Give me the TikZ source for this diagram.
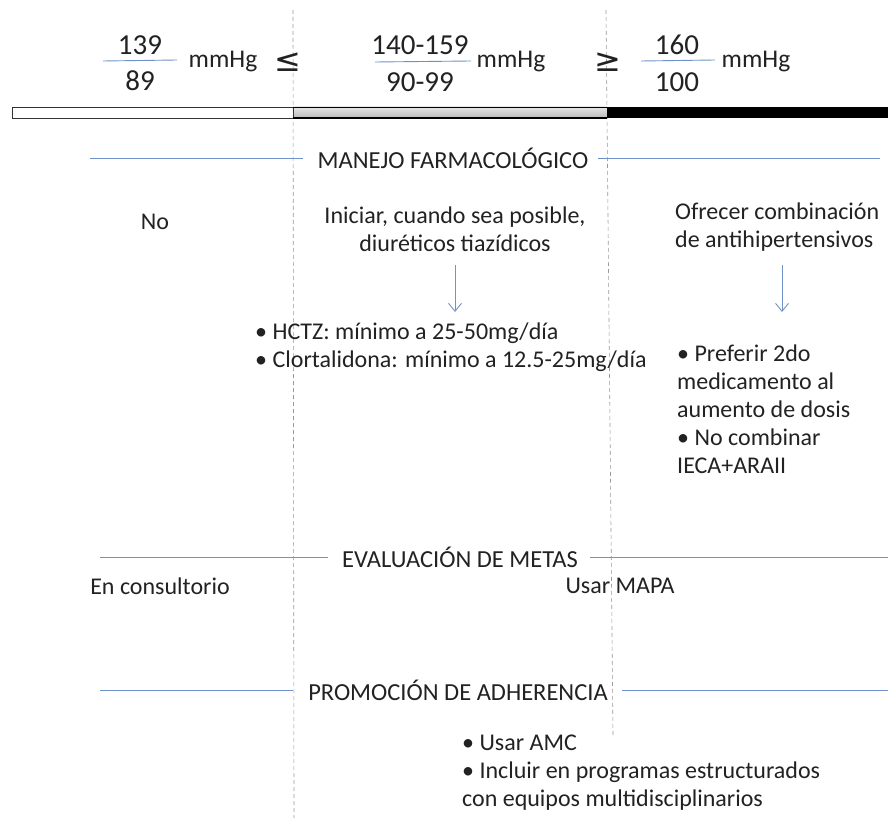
\documentclass[tikz,border=0pt]{standalone}
\usepackage{fontspec}
\setmainfont{Carlito}
\newfontfamily\symf{DejaVu Sans}
\usetikzlibrary{arrows.meta}
\definecolor{txt}{HTML}{222222}
\definecolor{bl}{HTML}{6F93C8}
\tikzset{
  txtn/.style={inner sep=0pt, text=txt, font=\fontsize{24}{28}\selectfont, align=left},
  numn/.style={inner sep=0pt, text=txt, font=\fontsize{29}{32}\selectfont},
  unitn/.style={inner sep=0pt, text=txt, font=\fontsize{25.5}{28}\selectfont},
  symn/.style={inner sep=0pt, text=txt, font=\symf\fontsize{32}{34}\selectfont},
  headn/.style={inner sep=0pt, text=txt, font=\fontsize{24.5}{28}\selectfont},
  fracl/.style={draw=bl, line width=0.9pt},
  secl/.style={draw=bl, line width=0.9pt},
  sepline/.style={draw=gray!80, line width=0.6pt, dash pattern=on 4pt off 3pt},
  arr/.style={draw=bl, line width=0.9pt, -{Straight Barb[length=8pt,width=13pt]}}
}
\begin{document}
\begin{tikzpicture}[x=1pt,y=-1pt]
\useasboundingbox (0,0) rectangle (888,818);
\fill[white] (0,0) rectangle (888,818);
% dashed separators
\coordinate (d1t) at (293,10); \coordinate (d1b) at (294,818);
\coordinate (d2t) at (606,10); \coordinate (d2b) at (613,737);
\draw[sepline] (d1t) -- (d1b);
\draw[sepline] (d2t) -- (d2b);
% bar
\shade[top color=gray!20, bottom color=gray!55] (293,107) rectangle (607,118);
\fill[black] (607,107) rectangle (888,118);
\draw[black!80, line width=0.8pt] (12,107) rectangle (293,118);
\draw[black, line width=0.8pt] (293,107) -- (607,107);
\draw[black, line width=1.3pt] (293,118) -- (607,118);
\draw[black, line width=0.8pt] (607,107) -- (607,118);
% fractions
\node[numn] (n139) at (140,45) {139};
\node[numn] (n89) at (140,81) {89};
\coordinate (f1a) at (103,61); \coordinate (f1b) at (177,60);
\draw[fracl] (f1a) -- (f1b);
\node[unitn] (mm1) at (223,62) {mmHg};
\node[symn] (le) at (288,62) {≤};
\node[numn] (n140) at (420,45) {140-159};
\node[numn] (n90) at (420,82) {90-99};
\coordinate (f2a) at (375,62); \coordinate (f2b) at (471,61);
\draw[fracl] (f2a) -- (f2b);
\node[unitn] (mm2) at (511,62) {mmHg};
\node[symn] (ge) at (608,62) {≥};
\node[numn] (n160) at (677,45) {160};
\node[numn] (n100) at (677,82) {100};
\coordinate (f3a) at (641,61); \coordinate (f3b) at (715,60);
\draw[fracl] (f3a) -- (f3b);
\node[unitn] (mm3) at (756,62) {mmHg};
% section 1
\node[headn] (h1) at (453,158) {MANEJO FARMACOLÓGICO};
\coordinate (h1a) at (90,158); \coordinate (h1b) at (303,158);
\coordinate (h1c) at (598,158); \coordinate (h1d) at (880,158);
\draw[secl] (h1a) -- (h1b);
\draw[secl] (h1c) -- (h1d);
\node[txtn] (no) at (155,222) {No};
\node[txtn, align=center] (ini) at (455,229) {Iniciar, cuando sea posible,\\diuréticos tiazídicos};
\coordinate (a1s) at (455,265); \coordinate (a1e) at (455,312);
\draw[arr] (a1s) -- (a1e);
\node[txtn, anchor=west] (hctz) at (255,347) {• HCTZ: mínimo a 25-50mg/día\\• Clortalidona: mínimo a 12.5-25mg/día};
\node[txtn, anchor=west] (ofr) at (675,227) {Ofrecer combinación\\de antihipertensivos};
\coordinate (a2s) at (782,265); \coordinate (a2e) at (782,312);
\draw[arr] (a2s) -- (a2e);
\node[txtn, anchor=west] (pref) at (677,409) {• Preferir 2do\\medicamento al\\aumento de dosis\\• No combinar\\IECA+ARAII};
% section 2
\node[headn] (h2) at (460,557) {EVALUACIÓN DE METAS};
\coordinate (h2a) at (100,557); \coordinate (h2b) at (328,557);
\coordinate (h2c) at (590,557); \coordinate (h2d) at (888,557);
\draw[secl] (h2a) -- (h2b);
\draw[secl] (h2c) -- (h2d);
\node[txtn] (cons) at (160,586) {En consultorio};
\node[txtn] (mapa) at (620,586) {Usar MAPA};
% section 3
\node[headn] (h3) at (458,690) {PROMOCIÓN DE ADHERENCIA};
\coordinate (h3a) at (100,690); \coordinate (h3b) at (293,690);
\coordinate (h3c) at (622,690); \coordinate (h3d) at (888,690);
\draw[secl] (h3a) -- (h3b);
\draw[secl] (h3c) -- (h3d);
\node[txtn, anchor=west] (amc) at (462,773) {• Usar AMC\\• Incluir en programas estructurados\\con equipos multidisciplinarios};
\end{tikzpicture}
\end{document}
